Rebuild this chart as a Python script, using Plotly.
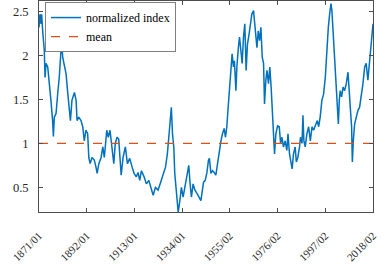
import plotly.graph_objects as go

# month index (1 = 1871/01) and normalized index value
month_idx = [1, 6, 12, 15, 21, 29, 33, 38, 47, 55, 64, 73, 77, 82, 91, 100, 108, 116, 121, 126,
             135, 144, 153, 161, 167, 175, 188, 197, 202, 211, 223, 232, 240, 249, 258, 264, 271,
             281, 293, 302, 308, 317, 329, 338, 346, 359, 367, 376, 387, 396, 404, 413, 422, 435,
             445, 457, 468, 480, 493, 503, 515, 524, 533, 542, 556, 568, 581, 595, 604, 616, 630,
             644, 657, 669, 679, 688, 695, 700, 706, 713, 718, 725, 731, 736, 745, 753, 762, 771,
             783, 792, 799, 806, 815, 824, 836, 847, 856, 864, 870, 879, 888, 896, 901, 909, 917,
             926, 935, 944, 953, 962, 970, 979, 986, 993, 1000, 1007, 1014, 1021, 1028, 1033, 1041,
             1046, 1054, 1060, 1067, 1074, 1081, 1088, 1095, 1102, 1111, 1118, 1125, 1134, 1140,
             1147, 1152, 1159, 1166, 1173, 1180, 1187, 1192, 1199, 1205, 1213, 1220, 1227, 1234,
             1240, 1245, 1252, 1261, 1270, 1277, 1284, 1292, 1301, 1310, 1316, 1324, 1333, 1338,
             1345, 1354, 1360, 1368, 1377, 1382, 1390, 1395, 1400, 1407, 1416, 1425, 1434, 1443,
             1451, 1462, 1471, 1478, 1486, 1495, 1504, 1513, 1518, 1523, 1529, 1536, 1543, 1548,
             1553, 1560, 1567, 1571, 1576, 1582, 1587, 1592, 1599, 1607, 1615, 1624, 1633, 1638,
             1645, 1652, 1656, 1661, 1668, 1677, 1686, 1694, 1703, 1712, 1721, 1729, 1738, 1744,
             1750, 1757, 1763, 1765]
norm_index = [2.32, 2.47, 2.36, 2.47, 2.26, 2.06, 1.75, 1.91, 1.87, 1.72, 1.49, 1.26, 1.08, 1.30,
              1.34, 1.57, 1.75, 2.02, 2.17, 1.98, 1.87, 1.79, 1.57, 1.38, 1.26, 1.49, 1.58, 1.49,
              1.26, 1.30, 1.26, 1.19, 1.03, 1.15, 1.11, 0.84, 0.77, 0.84, 0.81, 0.73, 0.66, 0.77,
              0.84, 0.96, 0.84, 1.15, 1.07, 1.15, 0.96, 0.77, 1.00, 1.07, 1.05, 0.64, 0.84, 0.96,
              0.77, 0.83, 0.73, 0.66, 0.62, 0.67, 0.58, 0.69, 0.62, 0.54, 0.58, 0.47, 0.41, 0.50,
              0.47, 0.56, 0.66, 0.73, 0.88, 1.11, 1.26, 1.41, 1.11, 0.96, 0.66, 0.50, 0.35, 0.22,
              0.35, 0.50, 0.39, 0.50, 0.66, 0.75, 0.54, 0.39, 0.54, 0.47, 0.43, 0.39, 0.35, 0.47,
              0.56, 0.58, 0.67, 0.81, 0.83, 0.66, 0.69, 0.67, 0.64, 0.77, 0.92, 1.03, 1.11, 1.17,
              1.07, 1.19, 1.41, 1.64, 1.87, 2.02, 1.87, 1.94, 1.60, 1.87, 2.09, 2.21, 2.06, 1.91,
              2.21, 2.36, 1.83, 2.13, 2.25, 2.40, 2.47, 2.51, 2.36, 2.25, 2.09, 2.28, 2.17, 2.32,
              1.98, 1.91, 1.45, 1.72, 1.83, 1.68, 1.87, 1.64, 1.34, 1.11, 0.88, 1.11, 1.20, 1.19,
              1.00, 1.07, 0.96, 1.03, 0.92, 1.11, 0.88, 0.77, 0.71, 0.88, 0.96, 0.79, 0.84, 0.96,
              1.07, 1.00, 1.32, 1.03, 0.96, 1.11, 1.19, 1.03, 1.19, 1.15, 1.22, 1.26, 1.19, 1.30,
              1.49, 1.56, 1.75, 1.98, 2.21, 2.32, 2.47, 2.59, 2.51, 2.32, 2.09, 1.83, 1.64, 1.38,
              1.22, 1.49, 1.60, 1.53, 1.64, 1.60, 1.68, 1.81, 1.68, 1.41, 1.19, 0.79, 1.03, 1.22,
              1.30, 1.38, 1.41, 1.53, 1.68, 1.87, 1.91, 1.72, 1.87, 2.02, 2.17, 2.34, 2.36]
mean_value = 1.0
tick_idx = [1, 253, 505, 757, 1009, 1261, 1513, 1765]
tick_labels = ["1871/01", "1892/01", "1913/01", "1934/01", "1955/02", "1976/02", "1997/02", "2018/02"]
y_ticks = [0.5, 1, 1.5, 2, 2.5]

FONT = "Times New Roman, Liberation Serif, serif"
AX = "#4d4d4d"

fig = go.Figure()
fig.add_trace(go.Scatter(x=month_idx, y=norm_index, mode="lines", name="normalized index",
                         line=dict(color="#0072BD", width=1.5)))
fig.add_trace(go.Scatter(x=[month_idx[0], month_idx[-1]], y=[mean_value, mean_value], mode="lines",
                         name="mean", line=dict(color="#D95319", width=1.2, dash="dash")))

fig.update_layout(
    width=382, height=268,
    margin=dict(l=39, r=9, t=1, b=56, autoexpand=False),
    plot_bgcolor="white", paper_bgcolor="white",
    font=dict(family=FONT, size=12, color="#262626"),
    showlegend=True,
    legend=dict(x=0.018, y=0.995, xanchor="left", yanchor="top",
                bgcolor="white", bordercolor="#808080", borderwidth=1,
                font=dict(family=FONT, size=12, color="#000"),
                tracegroupgap=0, itemwidth=30),
    xaxis=dict(range=[1, 1765], tickvals=tick_idx, ticktext=tick_labels, tickangle=-45,
               automargin=False, ticklabelstandoff=12,
               showgrid=False, zeroline=False, showline=True, linecolor=AX, linewidth=1,
               mirror="ticks", ticks="inside", ticklen=4, tickcolor=AX,
               tickfont=dict(family=FONT, size=11)),
    yaxis=dict(range=[0.22, 2.62], tickvals=y_ticks, ticktext=["0.5", "1", "1.5", "2", "2.5"],
               automargin=False,
               showgrid=False, zeroline=False, showline=True, linecolor=AX, linewidth=1,
               mirror="ticks", ticks="inside", ticklen=4, tickcolor=AX,
               ticklabelstandoff=7, tickfont=dict(family=FONT, size=12.5)),
)

fig.write_html("out.html", config={"displayModeBar": False},
               post_script="document.body.style.margin='0';document.body.style.overflow='hidden';")
